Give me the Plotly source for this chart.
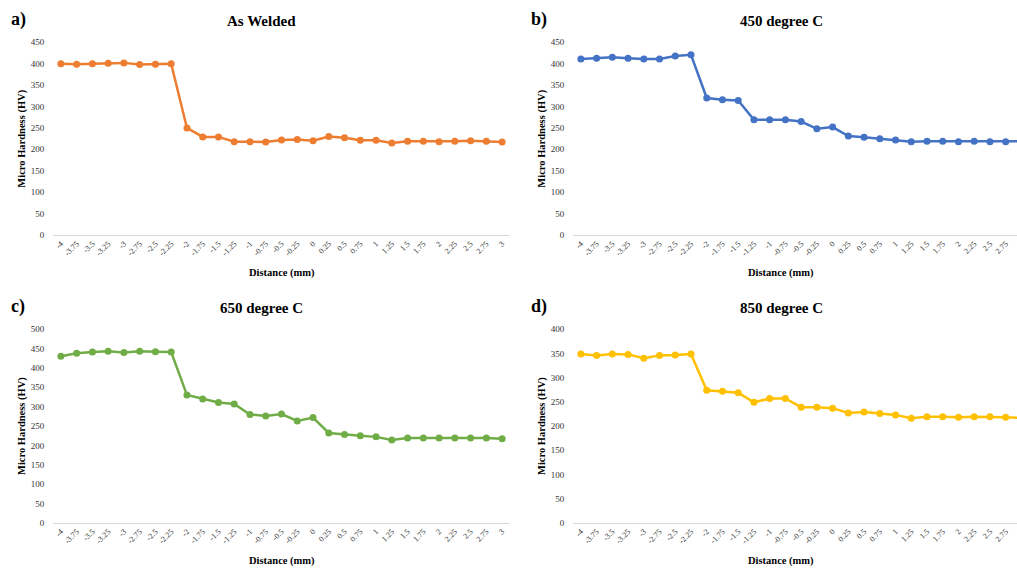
import plotly.graph_objects as go

W, H = 1017, 574

distance = ["-4", "-3.75", "-3.5", "-3.25", "-3", "-2.75", "-2.5", "-2.25", "-2", "-1.75",
            "-1.5", "-1.25", "-1", "-0.75", "-0.5", "-0.25", "0", "0.25", "0.5", "0.75",
            "1", "1.25", "1.5", "1.75", "2", "2.25", "2.5", "2.75", "3"]

as_welded = [400, 399, 400, 401, 402, 398, 399, 400, 250, 229, 229, 218, 218, 217, 222,
             223, 220, 230, 227, 221, 221, 215, 219, 219, 218, 219, 220, 219, 217]
deg450 = [411, 413, 415, 413, 411, 411, 418, 421, 320, 316, 314, 269, 269, 269, 265,
          248, 252, 231, 228, 225, 222, 218, 219, 219, 218, 219, 218, 218, 219]
deg650 = [430, 438, 441, 443, 440, 443, 442, 441, 330, 320, 311, 307, 280, 276, 281,
          263, 272, 232, 228, 225, 222, 214, 219, 219, 219, 219, 219, 219, 217]
deg850 = [349, 346, 349, 348, 340, 346, 347, 349, 274, 272, 269, 249, 257, 257, 239,
          239, 237, 227, 229, 226, 223, 216, 219, 219, 218, 219, 219, 218, 217]

titles = ["As Welded", "450 degree C", "650 degree C", "850 degree C"]
letters = ["a)", "b)", "c)", "d)"]
colors = ["#ED7D31", "#4472C4", "#70AD47", "#FFC000"]
series = [as_welded, deg450, deg650, deg850]
ymax = [450, 450, 500, 400]

# panel geometry in pixels: (x0, x1, ytop, ybottom, xrange_end)
panels = [
    (53, 510, 38, 234, 28.5),
    (573, 1017, 38, 234, 27.72),
    (53, 510, 330, 527, 28.5),
    (573, 1017, 330, 527, 27.72),
]

FONT = "Liberation Serif"
TICKC = "#333333"
fig = go.Figure()
layout = dict(
    width=W, height=H, autosize=False,
    margin=dict(l=0, r=0, t=0, b=0),
    paper_bgcolor="white", plot_bgcolor="white",
    showlegend=False,
    font=dict(family=FONT, color=TICKC),
)
annotations = []

for i in range(4):
    x0, x1, yt, yb, xend = panels[i]
    n = "" if i == 0 else str(i + 1)
    xa = "x" + n
    ya = "y" + n
    fig.add_trace(go.Scatter(
        x=distance, y=series[i], xaxis=xa, yaxis=ya, mode="lines+markers",
        line=dict(color=colors[i], width=2.5),
        marker=dict(color=colors[i], size=7),
    ))
    layout["xaxis" + n] = dict(
        type="category", domain=[x0 / W, x1 / W], anchor=ya,
        range=[-0.5, xend], tickmode="array", tickvals=distance, ticktext=distance,
        tickangle=-45, tickfont=dict(family=FONT, size=8, color=TICKC),
        showline=True, linecolor="#d9d9d9", linewidth=1, showgrid=False,
        zeroline=False, ticks="", fixedrange=True,
    )
    layout["yaxis" + n] = dict(
        domain=[1 - yb / H, 1 - yt / H], anchor=xa,
        range=[0, ymax[i]], dtick=50, tick0=0,
        tickfont=dict(family=FONT, size=9, color=TICKC),
        showline=False, showgrid=False, zeroline=False,
        ticks="outside", ticklen=6, tickcolor="rgba(0,0,0,0)",
    )
    cx = 261 if i in (0, 2) else 781
    annotations.append(dict(
        text="<b>" + titles[i] + "</b>", x=cx / W, y=1 - (yt - 22) / H,
        xref="paper", yref="paper", xanchor="center", yanchor="middle",
        showarrow=False, font=dict(family=FONT, size=15, color="#000000"),
    ))
    annotations.append(dict(
        text="<b>" + letters[i] + "</b>", x=(x0 - 44) / W, y=1 - (yt - 23) / H,
        xref="paper", yref="paper", xanchor="left", yanchor="middle",
        showarrow=False, font=dict(family=FONT, size=18, color="#000000"),
    ))
    annotations.append(dict(
        text="<b>Distance (mm)</b>", x=((x0 + 457 / 2) if i in (0, 2) else 781) / W,
        y=1 - (yb + 39) / H,
        xref="paper", yref="paper", xanchor="center", yanchor="middle",
        showarrow=False, font=dict(family=FONT, size=10.5, color="#000000"),
    ))
    annotations.append(dict(
        text="<b>Micro Hardness (HV)</b>", x=(x0 - 31) / W, y=1 - ((yt + yb) / 2) / H,
        xref="paper", yref="paper", xanchor="center", yanchor="middle", textangle=-90,
        showarrow=False, font=dict(family=FONT, size=10.5, color="#000000"),
    ))

layout["annotations"] = annotations
fig.update_layout(**layout)
fig.write_html("out.html")
